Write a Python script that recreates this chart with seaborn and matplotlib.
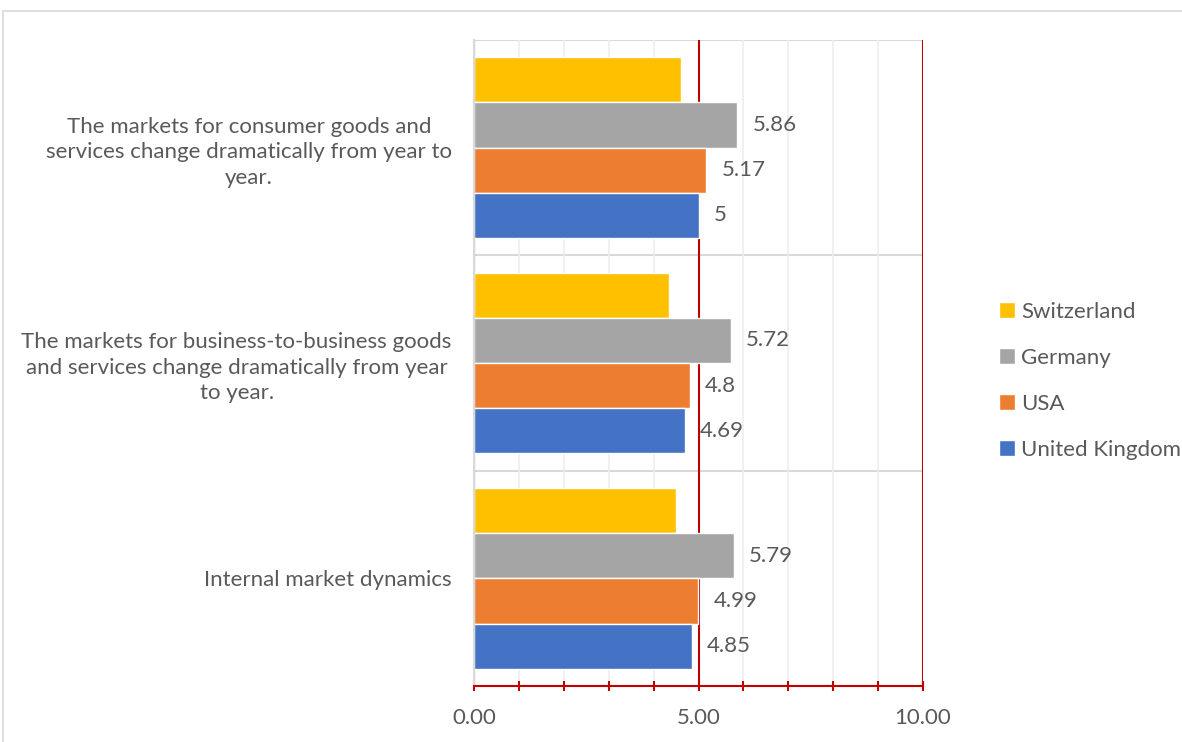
import numpy as np
import pandas as pd
import matplotlib.pyplot as plt
import matplotlib.patches as mpatches
from matplotlib.ticker import MultipleLocator
import seaborn as sns

# data
categories = [
    "The markets for consumer goods and\nservices change dramatically from year to\nyear.",
    "The markets for business-to-business goods\nand services change dramatically from year\nto year.",
    "Internal market dynamics",
]
countries = ["Switzerland", "Germany", "USA", "United Kingdom"]
switzerland = [4.62, 4.34, 4.49]
germany = [5.86, 5.72, 5.79]
usa = [5.17, 4.80, 4.99]
united_kingdom = [5.00, 4.69, 4.85]

colors = ["#FFC000", "#A5A5A5", "#ED7D31", "#4472C4"]

rows = []
for country, vals in zip(countries, [switzerland, germany, usa, united_kingdom]):
    for cat, v in zip(categories, vals):
        rows.append({"category": cat, "country": country, "value": v})
df = pd.DataFrame(rows)

sns.set_theme(style="white")
plt.rcParams["font.family"] = ["Lato", "DejaVu Sans"]
text_col = "#595959"
red = "#C00000"
light = "#D9D9D9"
fs = 16

fig = plt.figure(figsize=(11.82, 7.42), dpi=100)
ax = fig.add_axes([474 / 1182, 1 - 686 / 742, (923 - 474) / 1182, (686 - 40) / 742])

# outer chart border
fig.patches.append(mpatches.Rectangle((3 / 1182, -0.1), 1.2, 1 - 11 / 742 + 0.1,
                                      transform=fig.transFigure, fill=False,
                                      edgecolor=light, linewidth=1.2))

sns.barplot(data=df, y="category", x="value", hue="country", hue_order=countries,
            order=categories, palette=colors, orient="h", width=0.84, gap=0,
            saturation=1, ax=ax, legend=True)

ax.set_xlim(0, 10)
ax.set_ylim(2.5, -0.5)
ax.xaxis.set_major_locator(MultipleLocator(5))
ax.xaxis.set_minor_locator(MultipleLocator(1))
ax.set_xticklabels([f"{t:.2f}" for t in ax.get_xticks()])

# gridlines
ax.set_axisbelow(True)
ax.grid(False)
ax.xaxis.grid(True, which="minor", color="#EDEDED", linewidth=1.2, zorder=0)
ax.xaxis.grid(True, which="major", color=red, linewidth=1.5, zorder=0.5)
for yb in [-0.5, 0.5, 1.5]:
    ax.axhline(yb, color=light, linewidth=1.5, zorder=0.4)

for side in ["top", "right"]:
    ax.spines[side].set_visible(False)
ax.spines["left"].set_color(light)
ax.spines["left"].set_linewidth(1.5)
ax.spines["bottom"].set_color(red)
ax.spines["bottom"].set_linewidth(1.5)

ax.tick_params(axis="x", which="both", direction="inout", length=7, width=1.5,
               color=red, labelsize=fs, labelcolor=text_col, pad=12, bottom=True)
ax.tick_params(axis="y", length=0, labelsize=fs, labelcolor=text_col, pad=16)
for lab in ax.get_yticklabels():
    lab.set_multialignment("center")
    lab.set_linespacing(1.35)

ax.set_xlabel("")
ax.set_ylabel("")

# data labels (Switzerland has none)
for cont in ax.containers[1:]:
    ax.bar_label(cont, fmt="{:g}", padding=11, fontsize=fs, color=text_col)

handles, labels = ax.get_legend_handles_labels()
ax.get_legend().remove()
fig.legend(handles, labels, loc="center left", bbox_to_anchor=(979 / 1182, 1 - 381 / 742),
           frameon=False, fontsize=fs, labelcolor=text_col, handlelength=0.7,
           handleheight=0.7, handletextpad=0.3, labelspacing=1.17)

fig.savefig("out.png", dpi=100)
